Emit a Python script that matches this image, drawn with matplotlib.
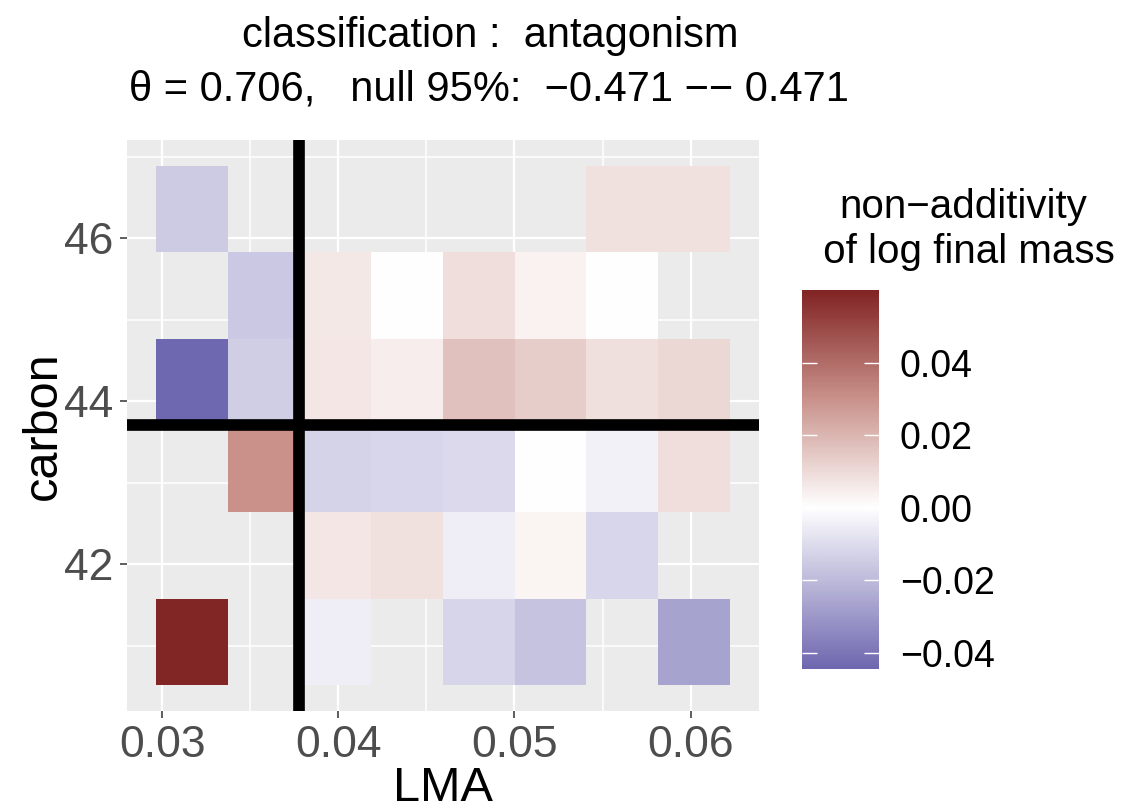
import numpy as np
import matplotlib.pyplot as plt
from matplotlib.colors import LinearSegmentedColormap, Normalize

# bin centres of the two traits
lma = [0.03168, 0.03576, 0.03983, 0.04390, 0.04798, 0.05205, 0.05612, 0.06020]
carbon = [41.05, 42.11, 43.18, 44.24, 45.30, 46.36]

# non-additivity of log final mass, rows bottom -> top (nan = empty bin)
nan = np.nan
nonadd = [
    [0.0600, nan, -0.0050, nan, -0.0123, -0.0176, nan, -0.0268],
    [nan, nan, 0.0066, 0.0080, -0.0047, 0.0030, -0.0118, nan],
    [nan, 0.0303, -0.0129, -0.0121, -0.0109, 0.0003, -0.0038, 0.0091],
    [-0.0445, -0.0141, 0.0069, 0.0047, 0.0171, 0.0138, 0.0085, 0.0110],
    [nan, -0.0162, 0.0063, 0.0003, 0.0091, 0.0033, 0.0000, nan],
    [-0.0153, nan, nan, nan, nan, nan, 0.0080, 0.0080],
]

# thresholds
lma_split = 0.03777
carbon_split = 43.71

theta = 0.706
null_lo, null_hi = -0.471, 0.471
classification = "antagonism"

W, H = 1133, 809
plt.rcParams['font.family'] = ['Liberation Sans', 'DejaVu Sans']

fig = plt.figure(figsize=(W / 100, H / 100), dpi=100)
ax = fig.add_axes([127.3 / W, 1 - 710.9 / H, (758.7 - 127.3) / W, (710.9 - 140) / H])
ax.set_facecolor('#EBEBEB')
for s in ax.spines.values():
    s.set_visible(False)

vals = np.ma.masked_invalid(np.array(nonadd))
vlim = np.nanmax(np.abs(np.array(nonadd)))
norm = Normalize(-vlim, vlim)
cmap = LinearSegmentedColormap.from_list(
    'nonadd', [(0.0, '#3C3394'), (0.5, '#FFFFFF'), (0.7525, '#C9918A'), (1.0, '#822525')])

ax.pcolormesh(lma, carbon, vals, cmap=cmap, norm=norm, shading='nearest', zorder=1)

# ggplot-like expansion of 5%
dx = (lma[1] - lma[0]) / 2
dy = (carbon[1] - carbon[0]) / 2
x0, x1 = lma[0] - dx, lma[-1] + dx
y0, y1 = carbon[0] - dy, carbon[-1] + dy
ax.set_xlim(x0 - 0.05 * (x1 - x0), x1 + 0.05 * (x1 - x0))
ax.set_ylim(y0 - 0.05 * (y1 - y0), y1 + 0.05 * (y1 - y0))

ax.axvline(lma_split, color='black', lw=8.4, zorder=3)
ax.axhline(carbon_split, color='black', lw=8.4, zorder=3)

ax.set_xticks([0.03, 0.04, 0.05, 0.06])
ax.set_xticklabels(['0.03', '0.04', '0.05', '0.06'])
ax.set_xticks([0.035, 0.045, 0.055], minor=True)
ax.set_yticks([42, 44, 46])
ax.set_yticks([41, 43, 45, 47], minor=True)
ax.set_axisbelow(True)
ax.grid(which='major', color='white', lw=1.6)
ax.grid(which='minor', color='white', lw=1.1)
ax.tick_params(which='major', length=5, width=1.1, color='#333333',
               labelcolor='#4D4D4D', labelsize=32, pad=5)
ax.tick_params(which='minor', length=0)

ax.set_xlabel('LMA', fontsize=35, va='baseline')
ax.xaxis.set_label_coords(0.5, -(801 - 710.9) / 570.9)
ax.set_ylabel('carbon', fontsize=35, va='baseline')
ax.yaxis.set_label_coords(-(127.3 - 56) / 631.4, 0.5)

# title
fig.text(490 / W, 1 - 46.7 / H, 'classification :  ' + classification,
         ha='center', va='baseline', fontsize=30)
fig.text(489 / W, 1 - 100 / H,
         '\u03b8 = %.3f,   null 95%%:  \u2212%.3f \u2212\u2212 %.3f' % (theta, -null_lo, null_hi),
         ha='center', va='baseline', fontsize=30)

# colour bar
cax = fig.add_axes([802 / W, 1 - 669 / H, 77 / W, 379 / H])
lo, hi = np.nanmin(np.array(nonadd)), np.nanmax(np.array(nonadd))
grad = np.linspace(lo, hi, 300).reshape(-1, 1)
cax.imshow(grad, aspect='auto', extent=[0, 1, lo, hi], origin='lower', cmap=cmap, norm=norm)
cax.set_xlim(0, 1)
cax.set_ylim(lo, hi)
cax.set_xticks([])
cbt = [-0.04, -0.02, 0.0, 0.02, 0.04]
cax.set_yticks(cbt)
cax.set_yticklabels(['\u22120.04', '\u22120.02', '0.00', '0.02', '0.04'])
cax.tick_params(axis='y', left=True, right=True, labelleft=False, labelright=True,
                direction='in', length=11, width=1, color='white',
                labelsize=27, labelcolor='black', pad=15)
for s in cax.spines.values():
    s.set_visible(False)

fig.text(963 / W, 1 - 218 / H, 'non\u2212additivity', ha='center', va='baseline', fontsize=29)
fig.text(963 / W, 1 - 263 / H, ' of log final mass', ha='center', va='baseline', fontsize=29)

fig.savefig('out.png', dpi=100)
